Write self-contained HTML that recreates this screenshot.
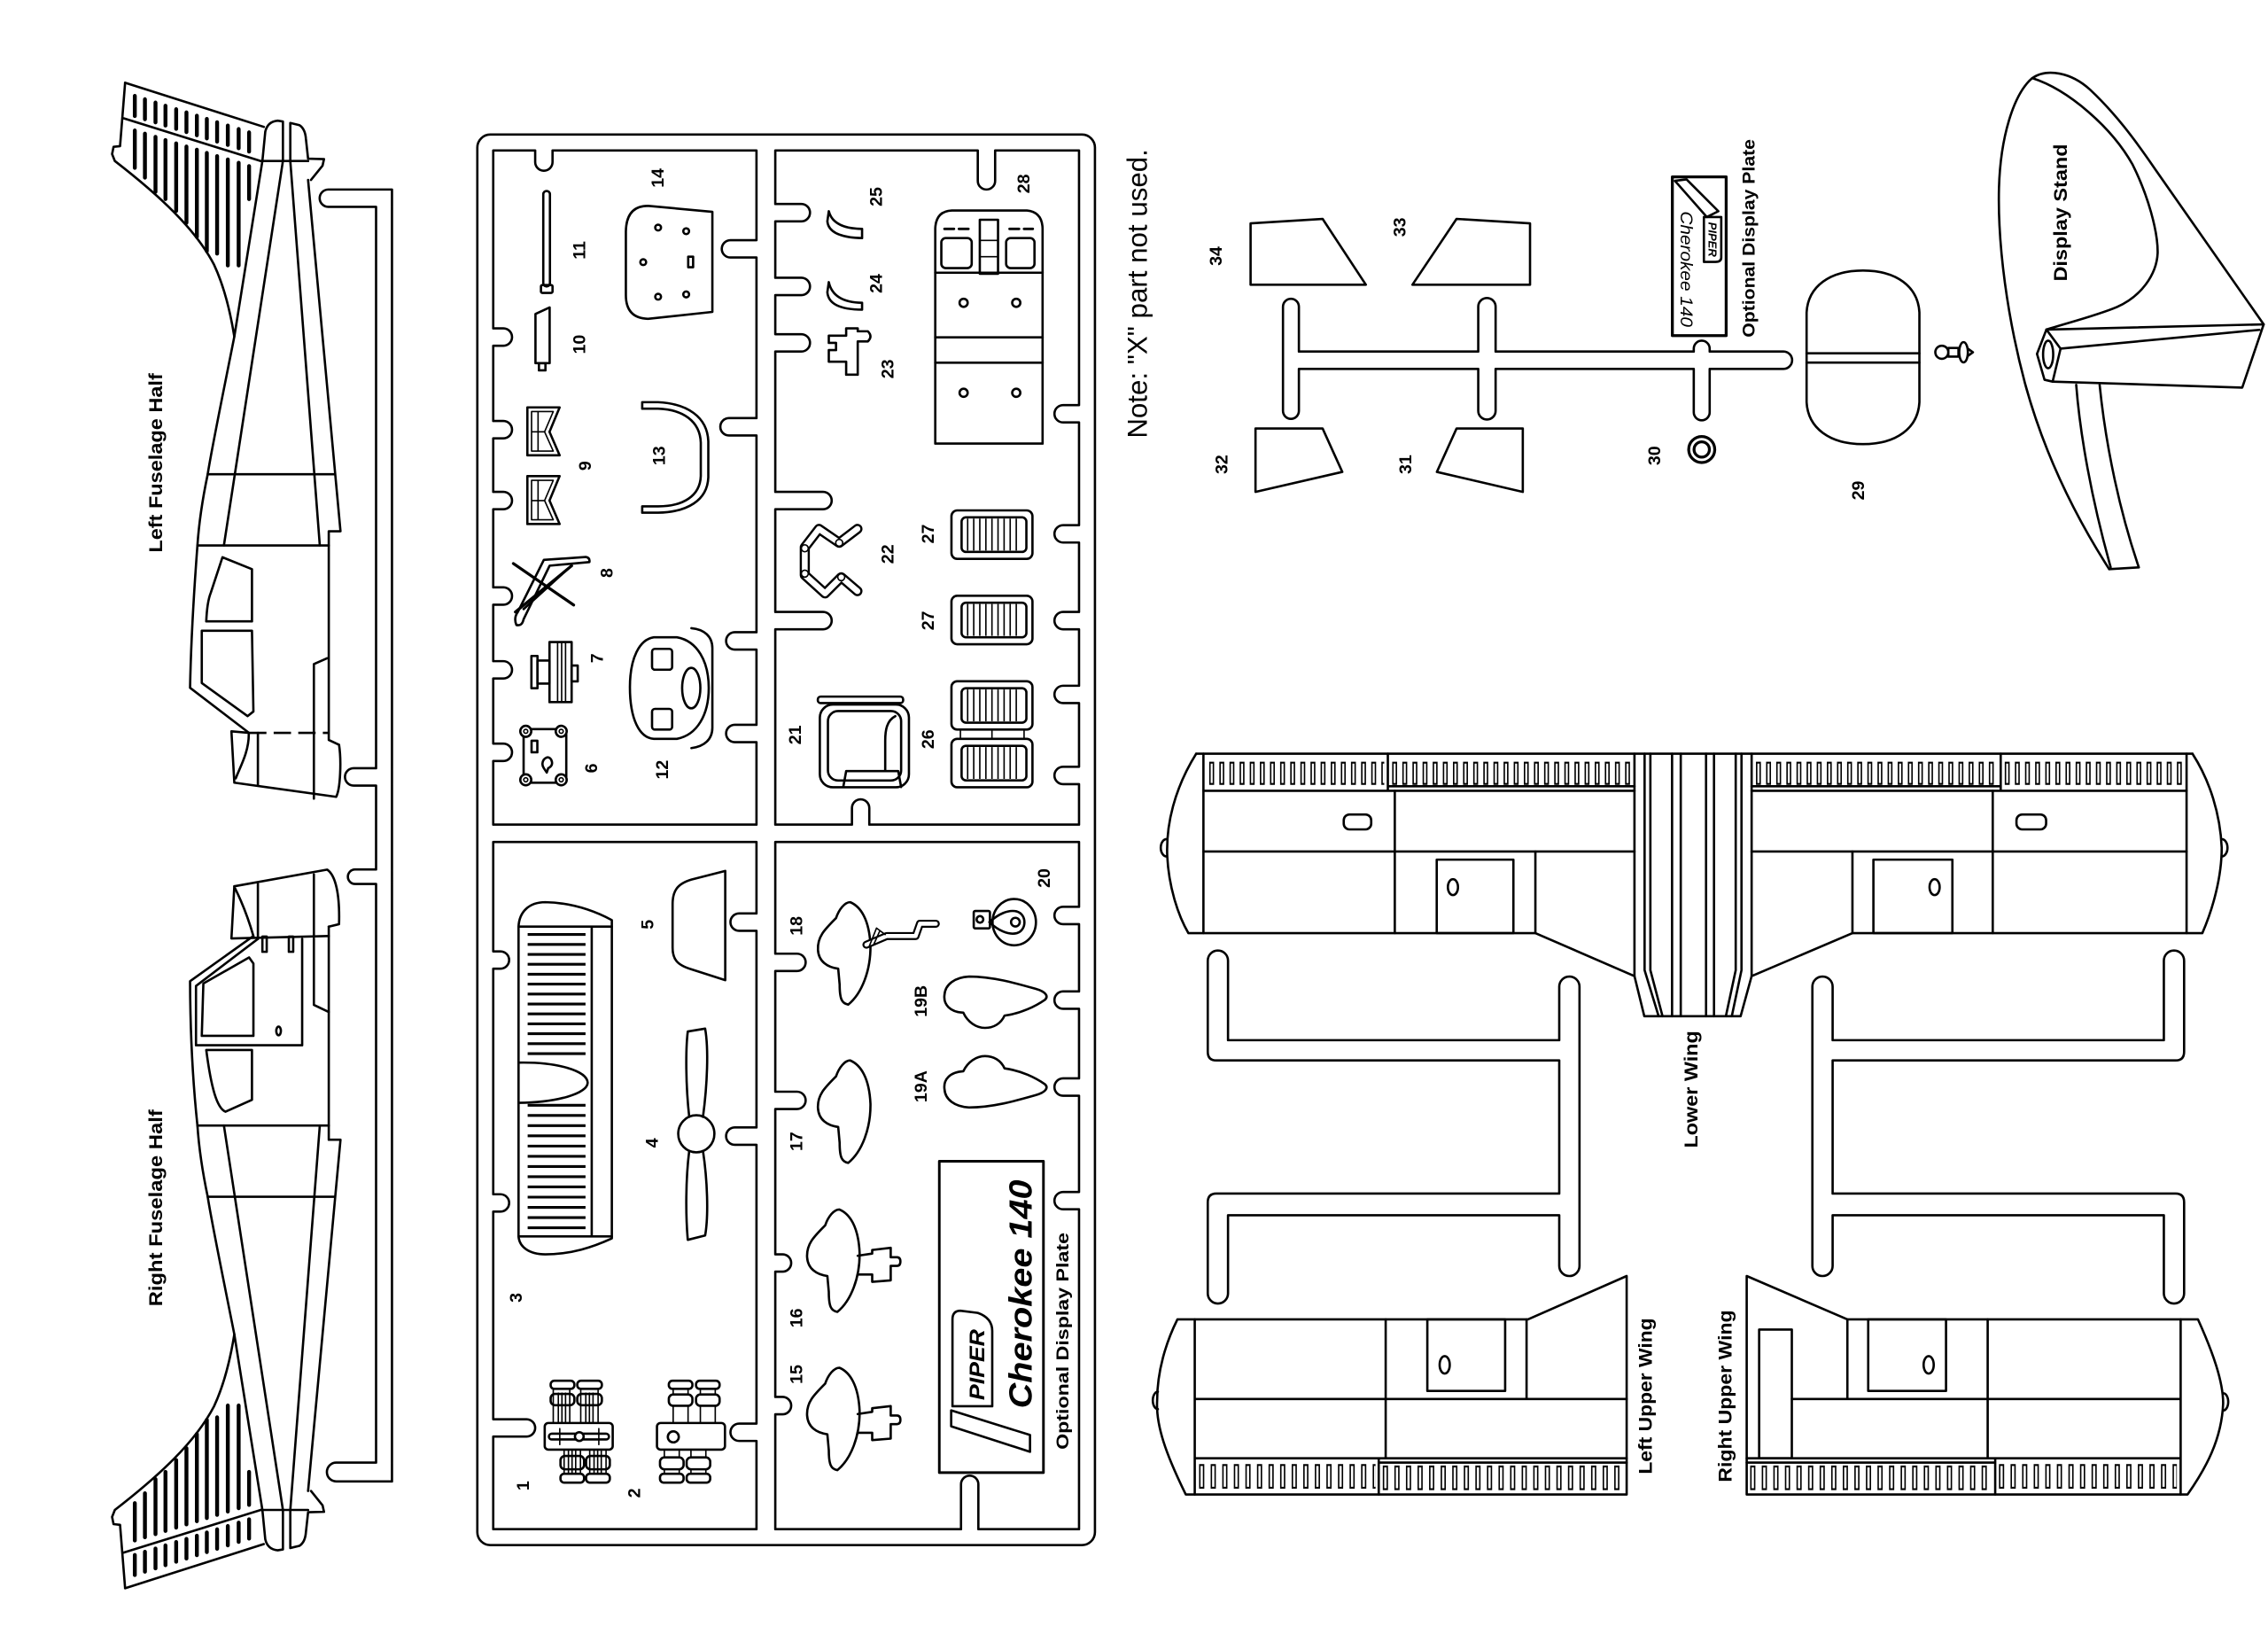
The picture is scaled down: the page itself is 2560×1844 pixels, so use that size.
<!DOCTYPE html>
<html><head><meta charset="utf-8"><style>
html,body{margin:0;padding:0;background:#fff;}
svg{display:block}
.s path,.s rect,.s circle,.s ellipse,.s line,.s polyline,.s polygon{fill:none;stroke:#000;stroke-width:1.6;stroke-linejoin:round;stroke-linecap:round}
.s .k{stroke-width:2.7}
.s .t{stroke-width:1}
.s .w{fill:#fff}
.s .f{fill:#000}
.s .d{stroke-dasharray:12 5;stroke-linecap:butt}
.s .vb{stroke-width:16;stroke-dasharray:3.4 3.6;stroke-linecap:butt}
.s .vw{stroke:#fff;stroke-width:13.4;stroke-dasharray:1.4 5.6;stroke-dashoffset:-1;stroke-linecap:butt}
.s .ub{stroke-width:17;stroke-dasharray:3.6 4.4;stroke-linecap:butt}
.s .uw{stroke:#fff;stroke-width:14.4;stroke-dasharray:1.6 6.4;stroke-dashoffset:-1;stroke-linecap:butt}
.s .gr{stroke-width:22;stroke-dasharray:1 3.2;stroke-linecap:butt}
.s .g3a{stroke-width:40;stroke-dasharray:1.9 4.96;stroke-linecap:butt}
.s .g3b{stroke-width:40;stroke-dasharray:1.9 5.16;stroke-linecap:butt}
.s .ob{stroke-width:7}
.s .ow{stroke:#fff;stroke-width:4}
.s .ob2{stroke-width:5.5}
.s .ow2{stroke:#fff;stroke-width:2.8}
text{fill:#000;font-family:"Liberation Sans",Arial,sans-serif;font-weight:bold;text-anchor:middle;dominant-baseline:central}
.n{font-size:12px}
.lb{font-size:13px}
</style></head><body>
<svg width="2560" height="1844" viewBox="0 0 1568 1129.45" class="s" xmlns="http://www.w3.org/2000/svg">

<!-- ===== LEFT FUSELAGE (top) tail part ===== -->
<g id="tailL">
<path d="M86.5,57.2 L182.4,87.7"/>
<path d="M86.5,57.2 L83,101 L78.5,101.5 L77.5,106.5 L79.4,111.3 C110,135 135,158 148,183 C155,198 159,214 162,232.7"/>
<path d="M85.5,81.8 L180.3,111.3"/>
<path class="k" d="M93.2,66.3V80.2 M100.2,68.6V82.4 M107.5,70.9V84.6 M114.4,73.1V86.8 M121.8,75.5V89.1 M128.9,77.7V91.3 M136.1,80V93.5 M143,82.2V95.7 M150.1,84.5V97.9 M157.5,86.8V100.2 M165,89.2V102.5 M172.2,91.5V104.8"/>
<path class="k" d="M93.2,90.2V116 M100.2,92.4V122.8 M107.5,94.6V132.6 M114.4,96.8V137.6 M121.8,99.1V145.8 M128.9,101.3V154 M136.1,103.5V163.8 M143,105.7V173.6 M150.1,107.9V175.3 M157.5,110.2V183.5 M165,112.5V183.5 M172.2,114.8V137.6"/>
<path d="M181.4,111.3 L183.4,91 Q185,84 192,83.4 L195.6,84 L195.6,111.3"/>
<path d="M200.7,111.3 L200.7,85 L207,86.5 Q211,89 211.5,96 L213,109.7 L224,110 L223,114.5 L215,124.4"/>
<path d="M180.3,111.3 L213,111.3"/>
<path d="M181.4,111.3 L162,232.7 C152,283 146,312 143.6,327.8 C140,345 137.5,362 136.5,377"/>
<path d="M213,124.4 L235.4,367.2 L227.3,367.2 L227.3,377"/>
<path d="M195.6,111.3 L154.8,377 M200.7,111.3 L221.1,377"/>
<path d="M143.6,327.8 L231,327.8 M136.5,377 L227.3,377"/>
</g>
<!-- left fuselage front -->
<path d="M136.5,377 C134,410 132,445 131.4,475.4 L172.2,506.6"/>
<path d="M172.2,506.6 L160,505.5 L162,541 L232.4,550.8 C235.5,545 236,525 234.4,514.8 L227.3,511.5 L227.3,377"/>
<path d="M153.8,385.2 L174.2,393.4 L174.2,429.5 L142.6,429.5 C143,420 144,414 145.7,409.8 Z"/>
<path d="M139.5,436 L174.2,436 L175.2,491.8 L171.2,495 L139.5,472.1 Z"/>
<path d="M217,552 L217,459 L226.2,455"/>
<path class="d" d="M172.2,506.6 L227.3,506.6"/>
<path d="M178.3,506.6 L178.3,542.6"/>
<path d="M172,507.5 C172,520 166,530 163,538"/>

<!-- ===== RIGHT FUSELAGE (bottom) mirrored tail ===== -->
<g transform="matrix(1,0,0,-1,0,1155)">
<path d="M86.5,57.2 L182.4,87.7"/>
<path d="M86.5,57.2 L83,101 L78.5,101.5 L77.5,106.5 L79.4,111.3 C110,135 135,158 148,183 C155,198 159,214 162,232.7"/>
<path d="M85.5,81.8 L180.3,111.3"/>
<path class="k" d="M93.2,66.3V80.2 M100.2,68.6V82.4 M107.5,70.9V84.6 M114.4,73.1V86.8 M121.8,75.5V89.1 M128.9,77.7V91.3 M136.1,80V93.5 M143,82.2V95.7 M150.1,84.5V97.9 M157.5,86.8V100.2 M165,89.2V102.5 M172.2,91.5V104.8"/>
<path class="k" d="M93.2,90.2V116 M100.2,92.4V122.8 M107.5,94.6V132.6 M114.4,96.8V137.6 M121.8,99.1V145.8 M128.9,101.3V154 M136.1,103.5V163.8 M143,105.7V173.6 M150.1,107.9V175.3 M157.5,110.2V183.5 M165,112.5V183.5 M172.2,114.8V137.6"/>
<path d="M181.4,111.3 L183.4,91 Q185,84 192,83.4 L195.6,84 L195.6,111.3"/>
<path d="M200.7,111.3 L200.7,85 L207,86.5 Q211,89 211.5,96 L213,109.7 L224,110 L223,114.5 L215,124.4"/>
<path d="M180.3,111.3 L213,111.3"/>
<path d="M181.4,111.3 L162,232.7 C152,283 146,312 143.6,327.8 C140,345 137.5,362 136.5,377"/>
<path d="M213,124.4 L235.4,367.2 L227.3,367.2 L227.3,377"/>
<path d="M195.6,111.3 L154.8,377 M200.7,111.3 L221.1,377"/>
<path d="M143.6,327.8 L231,327.8 M136.5,377 L227.3,377"/>
</g>
<!-- right fuselage front -->
<path d="M162,612.6 L226.2,601.1 C232,605 235,618 234.4,638.8 L227.3,640.5"/>
<path d="M162,612.6 L160,648.7 L227.3,647"/>
<path d="M178.3,611 L178.3,649 M217,604.4 L217,647"/>
<path d="M162.5,614 C168,625 172,636 175.2,647"/>
<path d="M227.3,640.5 L227.3,778"/>
<path d="M217,648.7 L217,694.6 L227.3,699.5"/>
<path d="M175.2,647 L131.4,678.2 C131.5,710 133,745 136.5,778"/>
<path d="M178.3,649 L135.5,681.5 L135.5,722.5 L208.9,722.5 L208.9,649"/>
<rect x="181.4" y="647.4" width="3" height="10.5"/>
<rect x="199.7" y="647.4" width="3" height="10.5"/>
<path d="M140.6,679.8 L172.2,661.8 L175.2,666 L175.2,716 L139.5,716 Z"/>
<ellipse cx="192.6" cy="712.6" rx="1.6" ry="3"/>
<path d="M142.6,725.8 L174.2,725.8 L174.2,760.2 L155.9,768.4 C150,766 146,752 142.6,725.8 Z"/>

<!-- fuselage sprue -->
<path d="M227,131 L271,131 L271,1024 L232.5,1024 A6.5,6.5 0 0 1 232.5,1011 L260,1011 L260,611 L245.5,611 A5,5 0 0 1 245.5,601 L260,601 L260,543 L244.5,543 A6,6 0 0 1 244.5,531 L260,531 L260,143 L227,143 A6,6 0 0 1 227,131 Z"/>

<text class="lb" transform="translate(108,320) rotate(-90)" textLength="124" lengthAdjust="spacingAndGlyphs">Left Fuselage Half</text>
<text class="lb" transform="translate(108,835) rotate(-90)" textLength="136" lengthAdjust="spacingAndGlyphs">Right Fuselage Half</text>

<!-- ===== SPRUE FRAME ===== -->
<rect x="330" y="93" width="427" height="975" rx="9"/>
<path d="M341,104 L370,104 L370,112 A6,6 0 0 0 382,112 L382,104 L523,104 L523,166 L505,166 A6,6 0 0 0 505,178 L523,178 L523,289 L504,289 A6,6 0 0 0 504,301 L523,301 L523,437 L508,437 A6,6 0 0 0 508,449 L523,449 L523,501 L508,501 A6,6 0 0 0 508,513 L523,513 L523,570 L341,570 L341,526 L348,526 A6,6 0 0 0 348,514 L341,514 L341,469 L348,469 A6,6 0 0 0 348,457 L341,457 L341,418 L348,418 A6,6 0 0 0 348,406 L341,406 L341,352 L348,352 A6,6 0 0 0 348,340 L341,340 L341,303 L348,303 A6,6 0 0 0 348,291 L341,291 L341,239 L348,239 A6,6 0 0 0 348,227 L341,227 Z"/>
<path d="M536,104 L676,104 L676,125 A6,6 0 0 0 688,125 L688,104 L746,104 L746,280 L735,280 A6,6 0 0 0 735,292 L746,292 L746,363 L735,363 A6,6 0 0 0 735,375 L746,375 L746,423 L735,423 A6,6 0 0 0 735,435 L746,435 L746,474 L735,474 A6,6 0 0 0 735,486 L746,486 L746,530 L735,530 A6,6 0 0 0 735,542 L746,542 L746,570 L601,570 L601,558.5 A6,6 0 0 0 589,558.5 L589,570 L536,570 L536,435 L569,435 A6,6 0 0 0 569,423 L536,423 L536,352 L569,352 A6,6 0 0 0 569,340 L536,340 L536,243 L554,243 A6,6 0 0 0 554,231 L536,231 L536,204 L554,204 A6,6 0 0 0 554,192 L536,192 L536,153 L554,153 A6,6 0 0 0 554,141 L536,141 Z"/>
<path d="M341,582 L523,582 L523,631.4 L511,631.4 A6,6 0 0 0 511,643.4 L523,643.4 L523,779.3 L508,779.3 A6,6 0 0 0 508,791.3 L523,791.3 L523,984 L511,984 A6,6 0 0 0 511,996 L523,996 L523,1057 L341,1057 L341,993 L364,993 A6,6 0 0 0 364,981 L341,981 L341,837.5 L346,837.5 A6,6 0 0 0 346,825.5 L341,825.5 L341,669.6 L346,669.6 A6,6 0 0 0 346,657.6 L341,657.6 Z"/>
<path d="M536,582 L746,582 L746,626.8 L735,626.8 A6,6 0 0 0 735,638.8 L746,638.8 L746,685.3 L735,685.3 A6,6 0 0 0 735,697.3 L746,697.3 L746,745.4 L735,745.4 A6,6 0 0 0 735,757.4 L746,757.4 L746,823.9 L735,823.9 A6,6 0 0 0 735,835.9 L746,835.9 L746,1057 L676.4,1057 L676.4,1026 A6,6 0 0 0 664.4,1026 L664.4,1057 L536,1057 L536,977.6 L541,977.6 A6,6 0 0 0 541,965.6 L536,965.6 L536,879 L541,879 A6,6 0 0 0 541,867 L536,867 L536,766.6 L551,766.6 A6,6 0 0 0 551,754.6 L536,754.6 L536,671.2 L551,671.2 A6,6 0 0 0 551,659.2 L536,659.2 Z"/>

<!-- ===== TOP-LEFT PANEL PARTS ===== -->
<!-- 11 -->
<rect x="375.6" y="132" width="4.6" height="66" rx="2.3"/>
<rect x="374" y="197" width="8" height="5.5" rx="1"/>
<!-- 10 -->
<path d="M370.2,217 L380,212.5 L380,251 L370.2,251 Z"/>
<rect x="372.6" y="251" width="4.5" height="5"/>
<!-- 14 -->
<path d="M432.7,160 Q433,142.3 448,142.3 L492.5,146.4 L492.5,215.6 L448,220.4 Q432.7,220 432.7,204 Z"/>
<circle cx="455" cy="157.3" r="2"/><circle cx="474.4" cy="159.8" r="2"/><circle cx="444.7" cy="181.2" r="2"/><circle cx="455" cy="205.1" r="2"/><circle cx="474.4" cy="203.5" r="2"/>
<rect x="475.8" y="177.4" width="3.4" height="7.3"/>
<!-- 9 -->
<g>
<path d="M364.6,281.6 L386.9,281.6 L379.9,298.5 L386.9,314.7 L364.6,314.7 Z"/>
<path class="t" d="M367.5,284.5 L382.5,284.5 L376.5,298.5 L382.5,311.8 L367.5,311.8 Z M372,284.5 L372,311.8 M367.5,298.5 L376.5,298.5"/>
</g>
<g transform="translate(0,47.5)">
<path d="M364.6,281.6 L386.9,281.6 L379.9,298.5 L386.9,314.7 L364.6,314.7 Z"/>
<path class="t" d="M367.5,284.5 L382.5,284.5 L376.5,298.5 L382.5,311.8 L367.5,311.8 Z M372,284.5 L372,311.8 M367.5,298.5 L376.5,298.5"/>
</g>
<!-- 13 -->
<path d="M444,278 L455,278 C475,279 489,288 489.7,305 L489.7,330 C489,346 475,354 455,354.4 L444,354.4 L444,350 L455,350 C472,350 484,343 484.5,329 L484.5,306 C484,291 472,283 455,282.5 L444,282.5 Z"/>
<!-- 8 -->
<path d="M357,432 Q355,427 358,423 L376,387 L405,385 Q408,385.5 407.5,388.5 L380,391 L362,428 Q361,433 357,432 Z"/>
<path d="M362,421 L395,391"/>
<path class="k" d="M354.9,389.5 L396.6,418.2 M356.3,423 L395.2,391.1" style="stroke-width:2"/>
<!-- 7 -->
<rect x="379.9" y="443.8" width="15.3" height="41.5"/>
<path class="t" d="M385.5,443.8 V485.3 M388.3,443.8 V485.3 M391,443.8 V485.3"/>
<rect x="371.6" y="456.6" width="8.3" height="15.9"/>
<rect x="367.4" y="453.4" width="4.2" height="22.3"/>
<rect x="395.2" y="460" width="4.2" height="11"/>
<!-- 6 -->
<rect x="362" y="504" width="29.5" height="37" rx="4"/>
<circle class="w" cx="363.5" cy="505.5" r="3.8"/><circle class="w" cx="388" cy="505.5" r="3.8"/><circle class="w" cx="363.5" cy="539" r="3.8"/><circle class="w" cx="388" cy="539" r="3.8"/>
<circle class="t" cx="363.5" cy="505.5" r="1.4"/><circle class="t" cx="388" cy="505.5" r="1.4"/><circle class="t" cx="363.5" cy="539" r="1.4"/><circle class="t" cx="388" cy="539" r="1.4"/>
<rect x="367.5" y="512" width="4" height="8"/>
<path d="M376,525 Q379,522 381,525 Q383,529 379,531 L378,534 L376,531 Q374,528 376,525 Z"/>
<!-- 12 -->
<path d="M478,434.2 C487,435 492.5,440 492.5,448 L492.5,503 C492.5,511 487,516 478,517.1"/>
<path class="w" d="M452,440.5 C442,442 435.5,455 435.5,475 C435.5,497 442,510 452,510.7 L468,510.7 C482,508 490,494 490,475.6 C490,457 482,443 468,440.5 Z"/>
<rect x="450.8" y="448.5" width="13.9" height="14.4" rx="2"/>
<rect x="450.8" y="490" width="13.9" height="14.3" rx="2"/>
<ellipse cx="477.9" cy="475.6" rx="6.3" ry="14"/>

<!-- ===== TOP-RIGHT PANEL PARTS ===== -->
<path d="M573,146 Q576,158 596,158.2 L596,164.6 Q573,164 572,153 Z"/>
<path d="M573,195 Q576,209 596,209.3 L596,214 Q573,214 572,202 Z"/>
<path d="M585,227 L593,227 L593,229 L600,229 Q603.5,232.5 600,236 L593,236 L593,259 L585,259 L585,250 L573,250 L573,242 L578,242 L578,237 L573,237 L573,232 L585,232 Z"/>
<!-- 28 -->
<path d="M646.6,306.6 L646.6,158 Q647,146 658,145.5 L710,145.5 Q720.5,146.5 720.8,158 L720.8,306.6 Z"/>
<path d="M646.6,188.5 H720.8 M646.6,233.2 H720.8 M646.6,250.7 H720.8"/>
<rect x="650.8" y="164.6" width="21" height="20.7" rx="3"/>
<rect x="695.6" y="164.6" width="19.6" height="20.7" rx="3"/>
<rect x="677.4" y="151.9" width="12.6" height="37.3"/>
<path class="t" d="M677.4,166.2 H690 M677.4,177.4 H690"/>
<path class="k" style="stroke-width:1.8" d="M653,158.2 H659.5 M663,158.2 H669.5 M698,158.2 H704.5 M708,158.2 H714"/>
<circle cx="666.2" cy="209.3" r="2.8"/><circle cx="702.6" cy="209.3" r="2.8"/><circle cx="666.2" cy="271.5" r="2.8"/><circle cx="702.6" cy="271.5" r="2.8"/>
<!-- 22 -->
<polyline class="ob" points="592.8,365.6 580.2,375.2 566.2,365.6 556.4,378.3 556.4,397.5 570.4,410.2 581.6,399 592.8,408.6"/>
<polyline class="ow" points="592.8,365.6 580.2,375.2 566.2,365.6 556.4,378.3 556.4,397.5 570.4,410.2 581.6,399 592.8,408.6"/>
<circle class="t" cx="580.2" cy="375.2" r="2.4"/><circle class="t" cx="581.6" cy="399" r="2.4"/><circle class="t" cx="556.4" cy="379" r="2.4"/><circle class="t" cx="556.4" cy="396.5" r="2.4"/>
<!-- 27 a -->
<rect x="657.8" y="352.8" width="56" height="33.5" rx="4"/>
<rect x="664.8" y="357.6" width="44.8" height="23.9" rx="3"/>
<line class="gr" x1="668.5" y1="369.5" x2="706" y2="369.5"/>
<!-- 27 b -->
<rect x="657.8" y="411.8" width="56" height="33.5" rx="4"/>
<rect x="664.8" y="416.6" width="44.8" height="23.9" rx="3"/>
<line class="gr" x1="668.5" y1="428.5" x2="706" y2="428.5"/>
<!-- 26 -->
<rect x="657.8" y="470.9" width="56" height="33.4" rx="4"/>
<rect x="664.8" y="475.7" width="44.8" height="23.8" rx="3"/>
<line class="gr" x1="668.5" y1="487.6" x2="706" y2="487.6"/>
<rect x="657.8" y="510.7" width="56" height="33.5" rx="4"/>
<rect x="664.8" y="515.5" width="44.8" height="23.9" rx="3"/>
<line class="gr" x1="668.5" y1="527.4" x2="706" y2="527.4"/>
<path class="t" d="M664,504.3 V510.7 M685.8,504.3 V510.7 M708,504.3 V510.7"/>
<!-- 21 -->
<rect x="565.4" y="481.5" width="59" height="4.5" rx="2"/>
<rect x="566.8" y="487" width="61.6" height="57.2" rx="9"/>
<rect x="572.4" y="491.5" width="50.6" height="48" rx="7"/>
<path d="M583,544 L585,533 L621,533 L623,544"/>
<path d="M619,495 C613,498 612,505 612,512 L612,533"/>

<!-- ===== BOTTOM-LEFT PANEL PARTS ===== -->
<!-- 3 -->
<path d="M358.5,640.5 C359,630 366,623.6 377,623.6 C395,624 410,629 423,636 L423,856 C410,862 395,867 377,867 C366,867 359,862 358.5,854.6 Z"/>
<path d="M358.5,640.5 H423 M358.5,854.6 H423 M409.1,640.5 V854.6"/>
<line class="g3a" x1="384.8" y1="645" x2="384.8" y2="730"/>
<line class="g3b" x1="384.8" y1="763" x2="384.8" y2="850"/>
<path class="w" d="M358.5,734.5 C385,734 406,740 406.3,748.4 C406,756 385,762 358.5,762.3 Z"/>
<!-- 5 -->
<path d="M501.4,602 L478,608 C468,611 465,616 465,625 L465,655 C465,663 468,667 478,670 L501.4,677.5 Z"/>
<!-- 4 -->
<path d="M476.5,772 C474,750 474,725 475.5,713 L487.5,711 C490,725 489,750 486,772"/>
<path d="M476.5,795.5 C474,815 474,840 475.5,857 L487.5,854 C490,840 489,815 486,795.5"/>
<ellipse cx="481.4" cy="783.7" rx="12.5" ry="12.8"/>
<!-- 1 -->
<g>
<rect x="382.5" y="960" width="11.4" height="23.6" class="t"/>
<rect x="401.5" y="960" width="12" height="23.6" class="t"/>
<path class="t" d="M386,963 V983.6 M388.5,963 V983.6 M391,963 V983.6 M405,963 V983.6 M407.5,963 V983.6 M410,963 V983.6"/>
<rect class="w" x="380.7" y="954.4" width="16.4" height="5.6" rx="2.5"/>
<rect class="w" x="399.1" y="954.4" width="17" height="5.6" rx="2.5"/>
<rect x="380.7" y="963.5" width="16.4" height="7.8" rx="3"/>
<rect x="399.1" y="963.5" width="17" height="7.8" rx="3"/>
<rect x="390" y="1002" width="11.3" height="16.7" class="t"/>
<rect x="407.7" y="1002" width="11.3" height="16.7" class="t"/>
<path class="t" d="M393,1002 V1018.7 M395.5,1002 V1018.7 M398,1002 V1018.7 M410.7,1002 V1018.7 M413.2,1002 V1018.7 M415.7,1002 V1018.7"/>
<rect x="387.5" y="1006.4" width="16.3" height="9.2" rx="3"/>
<rect x="405.2" y="1006.4" width="16.4" height="9.2" rx="3"/>
<rect x="387.5" y="1018.7" width="16.3" height="6.1" rx="2.5"/>
<rect x="405.2" y="1018.7" width="16.4" height="6.1" rx="2.5"/>
<rect class="w" x="376.6" y="983.6" width="47" height="18.4" rx="2.5"/>
<rect x="379.5" y="991" width="41.5" height="4" rx="2"/>
<path class="t" d="M387,987.5 V998.5 M414,987.5 V998.5"/>
<circle class="w" cx="400.5" cy="993" r="3"/>
</g>
<!-- 2 -->
<g>
<path class="t" d="M465.4,960 V983.6 M475.7,960 V983.6 M484.2,960 V983.6 M494.5,960 V983.6 M459.3,1002 V1018.7 M469.6,1002 V1018.7 M477.7,1002 V1018.7 M488,1002 V1018.7"/>
<rect class="w" x="462.4" y="954.4" width="16.3" height="5.6" rx="2.5"/>
<rect class="w" x="481.2" y="954.4" width="16.3" height="5.6" rx="2.5"/>
<rect class="w" x="462.4" y="963.9" width="16.3" height="7.8" rx="3"/>
<rect class="w" x="481.2" y="963.9" width="16.3" height="7.8" rx="3"/>
<rect class="w" x="456.3" y="1007.4" width="16.3" height="8.2" rx="3"/>
<rect class="w" x="474.7" y="1007.4" width="16.3" height="8.2" rx="3"/>
<rect class="w" x="456.3" y="1018.7" width="16.3" height="6.1" rx="2.5"/>
<rect class="w" x="474.7" y="1018.7" width="16.3" height="6.1" rx="2.5"/>
<rect class="w" x="454.2" y="983.6" width="47" height="18.4" rx="2.5"/>
<circle cx="465.5" cy="993.2" r="3.8"/>
</g>

<!-- ===== BOTTOM-RIGHT PANEL PARTS ===== -->
<!-- 17 blob -->
<path id="blob" d="M587.8,733 C595,736 601,745 601.8,763 C602,780 596,796 586.4,803.8 C582,803 580.5,800 580.5,790 L579.5,779 C572,778 566,774 565.5,766 C565,757 570,752 578,744 C580,738 584,733 587.8,733 Z"/>
<!-- 18 -->
<path transform="translate(0,-109.4)" d="M587.8,733 C595,736 601,745 601.8,763 C602,780 596,796 586.4,803.8 C582,803 580.5,800 580.5,790 L579.5,779 C572,778 566,774 565.5,766 C565,757 570,752 578,744 C580,738 584,733 587.8,733 Z"/>
<polyline class="ob2" points="599,653 613,647 633,647 636,638.5 647,638.5"/>
<polyline class="ow2" points="599,653 613,647 633,647 636,638.5 647,638.5"/>
<path class="t" d="M601,654 L606,641.5 L612,646 M604,653 L608,644"/>
<!-- 16 -->
<path transform="translate(-7.5,103)" d="M587.8,733 C595,736 601,745 601.8,763 C602,780 596,796 586.4,803.8 C582,803 580.5,800 580.5,790 L579.5,779 C572,778 566,774 565.5,766 C565,757 570,752 578,744 C580,738 584,733 587.8,733 Z"/>
<path d="M593,868 L603,866.5 L603,864 L615.8,862.5 L615.8,869 L620,869 Q622.5,869 622.5,872 Q622.5,875 620,875 L615.8,875 L615.8,885 L603,886 L603,881 L593,881"/>
<!-- 15 -->
<path transform="translate(-7.5,212.4)" d="M587.8,733 C595,736 601,745 601.8,763 C602,780 596,796 586.4,803.8 C582,803 580.5,800 580.5,790 L579.5,779 C572,778 566,774 565.5,766 C565,757 570,752 578,744 C580,738 584,733 587.8,733 Z"/>
<path transform="translate(0,109.4)" d="M593,868 L603,866.5 L603,864 L615.8,862.5 L615.8,869 L620,869 Q622.5,869 622.5,872 Q622.5,875 620,875 L615.8,875 L615.8,885 L603,886 L603,881 L593,881"/>
<!-- 19A -->
<path d="M653,753 C652,746 657,741 666,740.5 C669,734 675,730 681,730 C687,730 692,733 694.5,738.5 C706,740 716,745 722.5,749.5 C725,752 723,755 716,757 C702,761 686,765.5 670,765.5 C660,765 653.5,760 653,753 Z"/>
<!-- 19B -->
<path transform="matrix(1,0,0,-1,0,1440.5)" d="M653,753 C652,746 657,741 666,740.5 C669,734 675,730 681,730 C687,730 692,733 694.5,738.5 C706,740 716,745 722.5,749.5 C725,752 723,755 716,757 C702,761 686,765.5 670,765.5 C660,765 653.5,760 653,753 Z"/>
<!-- 20 -->
<rect x="673.2" y="629.7" width="11.2" height="12" rx="1"/>
<circle cx="677.5" cy="635.5" r="2.3"/>
<ellipse cx="701.2" cy="637.4" rx="15" ry="16"/>
<path d="M684,637.4 C690,632 697,628.5 703,630 C710,632 710,643 703,645 C697,646.5 690,643 684,637.4 Z"/>
<circle cx="702" cy="637.4" r="3"/>
<!-- display plate -->
<rect x="649.4" y="802.7" width="72" height="215.2" style="stroke-width:1.8"/>
<text transform="translate(705.5,894.5) rotate(-90)" style="font-size:22px;font-style:italic" textLength="158" lengthAdjust="spacingAndGlyphs">Cherokee 140</text>
<path d="M658.5,972 L658.5,912 Q658.5,906 664,906 L676,907.5 Q686,911 686,920 L686,972 Z"/>
<text transform="translate(676,943.3) rotate(-90)" style="font-size:15px;font-style:italic" textLength="49" lengthAdjust="spacingAndGlyphs">PIPER</text>
<path d="M657.6,974.9 L712.1,991.9 L712.1,1003.5 L657.6,985.9 Z"/>

<!-- numbers -->
<g>
<text class="n" transform="translate(455,123) rotate(-90)">14</text>
<text class="n" transform="translate(401,173) rotate(-90)">11</text>
<text class="n" transform="translate(401,238) rotate(-90)">10</text>
<text class="n" transform="translate(405,322) rotate(-90)">9</text>
<text class="n" transform="translate(456,315) rotate(-90)">13</text>
<text class="n" transform="translate(420,396) rotate(-90)">8</text>
<text class="n" transform="translate(413,455) rotate(-90)">7</text>
<text class="n" transform="translate(409,531) rotate(-90)">6</text>
<text class="n" transform="translate(458,532) rotate(-90)">12</text>
<text class="n" transform="translate(606,136) rotate(-90)">25</text>
<text class="n" transform="translate(606,196) rotate(-90)">24</text>
<text class="n" transform="translate(614,255) rotate(-90)">23</text>
<text class="n" transform="translate(708,127) rotate(-90)">28</text>
<text class="n" transform="translate(614,383) rotate(-90)">22</text>
<text class="n" transform="translate(642,369) rotate(-90)">27</text>
<text class="n" transform="translate(642,429) rotate(-90)">27</text>
<text class="n" transform="translate(642,511) rotate(-90)">26</text>
<text class="n" transform="translate(550,508) rotate(-90)">21</text>
<text class="n" transform="translate(448,639) rotate(-90)">5</text>
<text class="n" transform="translate(357,897) rotate(-90)">3</text>
<text class="n" transform="translate(451,790) rotate(-90)">4</text>
<text class="n" transform="translate(362,1027) rotate(-90)">1</text>
<text class="n" transform="translate(439,1032) rotate(-90)">2</text>
<text class="n" transform="translate(551,640) rotate(-90)">18</text>
<text class="n" transform="translate(722,607) rotate(-90)">20</text>
<text class="n" transform="translate(637,692) rotate(-90)">19B</text>
<text class="n" transform="translate(637,751) rotate(-90)">19A</text>
<text class="n" transform="translate(551,789) rotate(-90)">17</text>
<text class="n" transform="translate(551,911) rotate(-90)">16</text>
<text class="n" transform="translate(551,950) rotate(-90)">15</text>
<text class="n" transform="translate(735,927) rotate(-90)" textLength="150" lengthAdjust="spacingAndGlyphs">Optional Display Plate</text>
</g>

<!-- ===== NOTE ===== -->
<text transform="translate(786.5,203) rotate(-90)" style="font-size:19px;font-weight:normal" textLength="200" lengthAdjust="spacingAndGlyphs">Note: "X" part not used.</text>

<!-- ===== TOP-RIGHT TREE 31-34 ===== -->
<path d="M864.6,154.4 L914.4,151.3 L944.3,196.8 L864.6,196.8 Z"/>
<path d="M1007,151.3 L1057.8,154.4 L1057.8,196.8 L976.5,196.8 Z"/>
<path d="M868,296.2 L914.4,296.2 L928,326.2 L868,340 Z"/>
<path d="M1007,296.2 L1052.8,296.2 L1052.8,340 L993.4,326.2 Z"/>
<path d="M887,212 A5.5,5.5 0 0 1 898,212 L898,243 L1022,243 L1022,212 A6,6 0 0 1 1034,212 L1034,243 L1171,243 L1171,241 A5.5,5.5 0 0 1 1182,241 L1182,243 L1233,243 A6,6 0 0 1 1233,255 L1182,255 L1182,285 A5.5,5.5 0 0 1 1171,285 L1171,255 L1034,255 L1034,284 A6,6 0 0 1 1022,284 L1022,255 L898,255 L898,284 A5.5,5.5 0 0 1 887,284 Z"/>
<circle cx="1176.5" cy="310.7" r="9" style="stroke-width:2"/>
<circle cx="1176.5" cy="310.7" r="5.3" style="stroke-width:2"/>
<!-- small plate -->
<rect x="1156.2" y="122.3" width="37.2" height="109.7" style="stroke-width:2"/>
<path d="M1158,125 L1166,124 L1188,146 L1180,150 Z"/>
<path d="M1178,150 L1190,150 L1190,178 Q1190,181 1186,181 L1178,181 Z"/>
<text transform="translate(1184,165.5) rotate(90)" style="font-size:8px;font-style:italic" textLength="24" lengthAdjust="spacingAndGlyphs">PIPER</text>
<text transform="translate(1165.5,186) rotate(90)" style="font-size:12px;font-style:italic;font-weight:normal" textLength="80" lengthAdjust="spacingAndGlyphs">Cherokee 140</text>
<text class="n" transform="translate(1209.5,164.7) rotate(-90)" textLength="137" lengthAdjust="spacingAndGlyphs">Optional Display Plate</text>
<text class="n" transform="translate(841,177) rotate(-90)">34</text>
<text class="n" transform="translate(968,157) rotate(-90)">33</text>
<text class="n" transform="translate(845,321) rotate(-90)">32</text>
<text class="n" transform="translate(972,321) rotate(-90)">31</text>
<text class="n" transform="translate(1144,315) rotate(-90)">30</text>
<text class="n" transform="translate(1285,339) rotate(-90)">29</text>

<!-- 29 -->
<path d="M1249,216 C1250,198 1265,187 1288,187 C1311,187 1326,198 1327,216 L1327,278 C1326,296 1311,307 1288,307 C1265,307 1250,296 1249,278 Z"/>
<path d="M1249,244.2 H1327 M1249,250.6 H1327"/>
<!-- pin -->
<circle cx="1342.5" cy="243.5" r="4.5"/>
<rect x="1347" y="240.5" width="7" height="6"/>
<ellipse cx="1357.5" cy="243.5" rx="3" ry="7"/>
<path d="M1360.5,241 L1364,243.5 L1360.5,246"/>

<!-- ===== DISPLAY STAND ===== -->
<path d="M1458.2,393.4 C1440,365 1415,320 1400,265 C1388,220 1381,170 1382,130 C1383,95 1392,65 1405,54 C1415,47 1432,50 1445,62 C1462,78 1475,95 1490,117 L1565,224.2 L1550.2,267.9 L1419.1,263.8"/>
<path d="M1414.8,227.8 L1565,224.2 M1424.6,241 L1562,228"/>
<path d="M1408.3,244.6 L1414.8,227.8 L1424.6,241 L1419.1,263.8 L1413.5,262.5 Z"/>
<ellipse cx="1416" cy="245" rx="3.5" ry="9.5"/>
<path d="M1405,54 C1430,62 1460,88 1474.4,113.8 C1485,135 1492,160 1491.7,175 C1491,190 1480,205 1463.6,212.2 C1450,218 1430,223 1414.8,227.8"/>
<path d="M1435.4,266 C1438,300 1446,345 1459.2,392 M1451.6,266 C1456,310 1466,355 1478.7,392.2 M1458.2,393.4 L1478.7,392.2"/>
<text class="lb" transform="translate(1425,147) rotate(-90)" textLength="95" lengthAdjust="spacingAndGlyphs">Display Stand</text>

<!-- ===== LOWER WING ===== -->
<path d="M827,521 L1515.8,521"/>
<path d="M827,521 C812,545 806,570 807,592 C808,612 814,632 821.6,645 L1061.5,645 L1130,674.7 L1136.8,702.4 L1203.4,702.4 L1211,674.7 L1280.7,645 L1522.6,645 C1530,628 1536,606 1536,586 C1535,563 1528,540 1515.8,521"/>
<path d="M1130,521 L1130,674.7 M1211,521 L1211,674.7"/>
<path d="M806.5,580 A4,6 0 0 0 806.5,592"/>
<path d="M1536,580 A4,6 0 0 1 1536,592"/>
<path d="M832,521 V645 M1511.7,521 V645"/>
<path d="M832,546.6 H1130 M1211,546.6 H1511.7 M960,543.5 H1130 M1211,543.5 H1383.2 M959.5,521 V546.6 M1383.2,521 V546.6"/>
<path d="M832,588.6 H1130 M1211,588.6 H1511.7"/>
<path d="M964.3,546.6 V645 M1377.7,546.6 V645 M1061.5,588.6 V645 M1280.7,588.6 V645"/>
<rect x="993.3" y="594.2" width="53" height="50.8"/>
<rect x="1295.2" y="594.2" width="54.6" height="50.8"/>
<ellipse cx="1004.5" cy="613.2" rx="3.5" ry="5.5"/>
<ellipse cx="1337.5" cy="613.2" rx="3.5" ry="5.5"/>
<rect x="929" y="563" width="19" height="10.3" rx="4"/>
<rect x="1394.1" y="563" width="20.5" height="10.3" rx="4"/>
<path d="M1137,521 L1137,670.6 L1146.7,702.4 M1141,521 L1141,670.6 L1149.4,702.4 M1156,521 V702.4 M1162,521 V702.4 M1179.5,521 V702.4 M1185,521 V702.4 M1200,521 L1200,670.6 L1193.2,702.4 M1204,521 L1204,670.6 L1197.3,702.4"/>
<line class="vb" x1="836" y1="534.5" x2="957" y2="534.5"/><line class="vw" x1="836" y1="534.5" x2="957" y2="534.5"/>
<line class="vb" x1="962.5" y1="534.5" x2="1128" y2="534.5"/><line class="vw" x1="962.5" y1="534.5" x2="1128" y2="534.5"/>
<line class="vb" x1="1214" y1="534.5" x2="1381" y2="534.5"/><line class="vw" x1="1214" y1="534.5" x2="1381" y2="534.5"/>
<line class="vb" x1="1386" y1="534.5" x2="1509" y2="534.5"/><line class="vw" x1="1386" y1="534.5" x2="1509" y2="534.5"/>
<text class="lb" transform="translate(1169.5,753) rotate(-90)" textLength="81" lengthAdjust="spacingAndGlyphs">Lower Wing</text>

<!-- H sprues -->
<path d="M1078,682 A7,7 0 0 1 1092,682 L1092,875 A7,7 0 0 1 1078,875 L1078,840 L849,840 L849,894 A7,7 0 0 1 835,894 L835,831 Q835,825 841,825 L1078,825 L1078,733 L841,733 Q835,733 835,727 L835,664 A7,7 0 0 1 849,664 L849,719 L1078,719 Z"/>
<path d="M1267,682 A7,7 0 0 0 1253,682 L1253,875 A7,7 0 0 0 1267,875 L1267,840 L1496,840 L1496,894 A7,7 0 0 0 1510,894 L1510,831 Q1510,825 1504,825 L1267,825 L1267,733 L1504,733 Q1510,733 1510,727 L1510,664 A7,7 0 0 0 1496,664 L1496,719 L1267,719 Z"/>

<!-- ===== LEFT UPPER WING ===== -->
<path d="M814,912 L1056.4,912 L1124.6,882 L1124.6,1033 L819.8,1033 C806,1005 799,985 800,968 C800,948 806,928 814,912 Z"/>
<path d="M800.5,962 A3.5,6 0 0 0 800.5,974"/>
<path d="M826,912 V1033 M958,912 V1008 M1055.4,912 V967 M826,967 H1124.6 M826,1008 H1124.6 M953.2,1011 H1124.6 M953.2,1008 V1033"/>
<rect x="986.8" y="912" width="53.8" height="49.4"/>
<ellipse cx="998.8" cy="943.4" rx="3.5" ry="6"/>
<line class="ub" x1="829" y1="1020.5" x2="951" y2="1020.5"/><line class="uw" x1="829" y1="1020.5" x2="951" y2="1020.5"/>
<line class="ub" x1="956" y1="1021.5" x2="1122" y2="1021.5"/><line class="uw" x1="956" y1="1021.5" x2="1122" y2="1021.5"/>
<text class="lb" transform="translate(1138,965) rotate(-90)" textLength="108" lengthAdjust="spacingAndGlyphs">Left Upper Wing</text>

<!-- ===== RIGHT UPPER WING ===== -->
<path d="M1207.6,882 L1277.2,912 L1519.6,912 C1530,935 1537,955 1537,970 C1536,995 1525,1015 1512.4,1033 L1207.6,1033 Z"/>
<path d="M1537,963 A3.5,6 0 0 1 1537,975"/>
<path d="M1507.6,912 V1033 M1277.2,912 V967 M1374.2,912 V1008 M1238.8,967 H1507.6 M1207.6,1008 H1507.6 M1207.6,1011 H1379.4 M1379.4,1008 V1033"/>
<rect x="1216.2" y="919" width="22.6" height="89"/>
<rect x="1291.6" y="912" width="53.8" height="49.4"/>
<ellipse cx="1333.4" cy="943.4" rx="3.5" ry="6"/>
<line class="ub" x1="1210" y1="1021.5" x2="1377" y2="1021.5"/><line class="uw" x1="1210" y1="1021.5" x2="1377" y2="1021.5"/>
<line class="ub" x1="1382" y1="1020.5" x2="1505" y2="1020.5"/><line class="uw" x1="1382" y1="1020.5" x2="1505" y2="1020.5"/>
<text class="lb" transform="translate(1193,965) rotate(-90)" textLength="119" lengthAdjust="spacingAndGlyphs">Right Upper Wing</text>

</svg>
</body></html>
